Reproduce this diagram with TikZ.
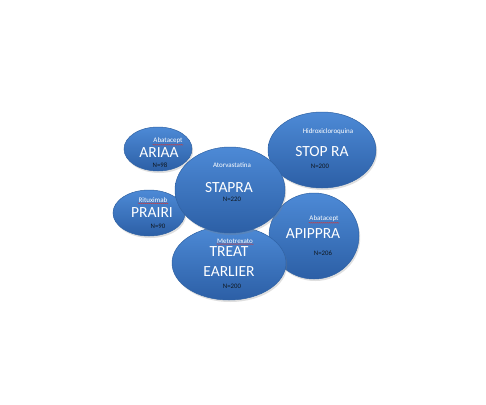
\documentclass[tikz,border=0pt]{standalone}
\usepackage{fontspec}
\setmainfont{Carlito}
\usetikzlibrary{shapes.geometric,shadows,decorations.pathmorphing}
\definecolor{blueTop}{HTML}{4D8AD6}
\definecolor{blueBot}{HTML}{2C5FA6}
\definecolor{blueRim}{HTML}{2F62A4}
\definecolor{ink}{HTML}{101820}
\definecolor{spell}{HTML}{D23A3A}
\tikzset{
  trial/.style={ellipse,draw=blueRim,line width=0.5pt,top color=blueTop,bottom color=blueBot,
    drop shadow={opacity=0.25,shadow xshift=1.2pt,shadow yshift=-2pt},inner sep=0pt},
  acro/.style={text=white,font=\fontsize{15.5}{17}\selectfont,inner sep=0pt,align=center},
  drug/.style={text=white,font=\fontsize{7}{8}\selectfont,inner sep=0.6pt},
  count/.style={text=ink,font=\fontsize{6.8}{8}\selectfont,inner sep=0pt},
  squig/.style={draw=spell,line width=0.4pt,decorate,decoration={snake,amplitude=0.35pt,segment length=2pt}}
}
\begin{document}
\begin{tikzpicture}[x=1pt,y=-1pt]
  \useasboundingbox[fill=white] (0,0) rectangle (486,404);

  % bubbles, back to front
  \node[trial,minimum width=108,minimum height=76] (stopra) at (322,150) {};
  \node[trial,minimum width=90,minimum height=86] (apippra) at (314,236) {};
  \node[trial,minimum width=114,minimum height=74] (treat) at (229,263) {};
  \node[trial,minimum width=72,minimum height=46] (prairi) at (149,213) {};
  \node[trial,minimum width=68,minimum height=44] (ariaa) at (158,149) {};
  \node[trial,minimum width=110,minimum height=86] (stapra) at (230,190) {};

  % ARIAA
  \node[drug] (ariaaD) at (168,141) {Abatacept};
  \node[acro] (ariaaT) at (159,152.5) {ARIAA};
  \node[count] (ariaaN) at (160,165) {N=98};
  \draw[squig] (ariaaD.south west) -- (ariaaD.south east);

  % PRAIRI
  \node[drug] (prairiD) at (153,200) {Rituximab};
  \node[acro] (prairiT) at (152,212.5) {PRAIRI};
  \node[count] (prairiN) at (158,226) {N=90};
  \draw[squig] (prairiD.south west) -- (prairiD.south east);

  % STAPRA
  \node[drug] (stapraD) at (232,165) {Atorvastatina};
  \node[acro] (stapraT) at (229,187.5) {STAPRA};
  \node[count] (stapraN) at (232,199) {N=220};

  % STOP RA
  \node[drug] (stopraD) at (328,132) {Hidroxicloroquina};
  \node[acro] (stopraT) at (322,152) {STOP RA};
  \node[count] (stopraN) at (320,166) {N=200};

  % APIPPRA
  \node[drug] (apippraD) at (324,219) {Abatacept};
  \node[acro] (apippraT) at (313,234) {APIPPRA};
  \node[count] (apippraN) at (323,253) {N=206};
  \draw[squig] (apippraD.south west) -- (apippraD.south east);

  % TREAT EARLIER
  \node[drug] (treatD) at (235,241) {Metotrexato};
  \node[acro] (treatT) at (229,262) {TREAT\\[3pt]EARLIER};
  \node[count] (treatN) at (232,286) {N=200};
  \draw[squig] (treatD.south west) -- (treatD.south east);
\end{tikzpicture}
\end{document}
